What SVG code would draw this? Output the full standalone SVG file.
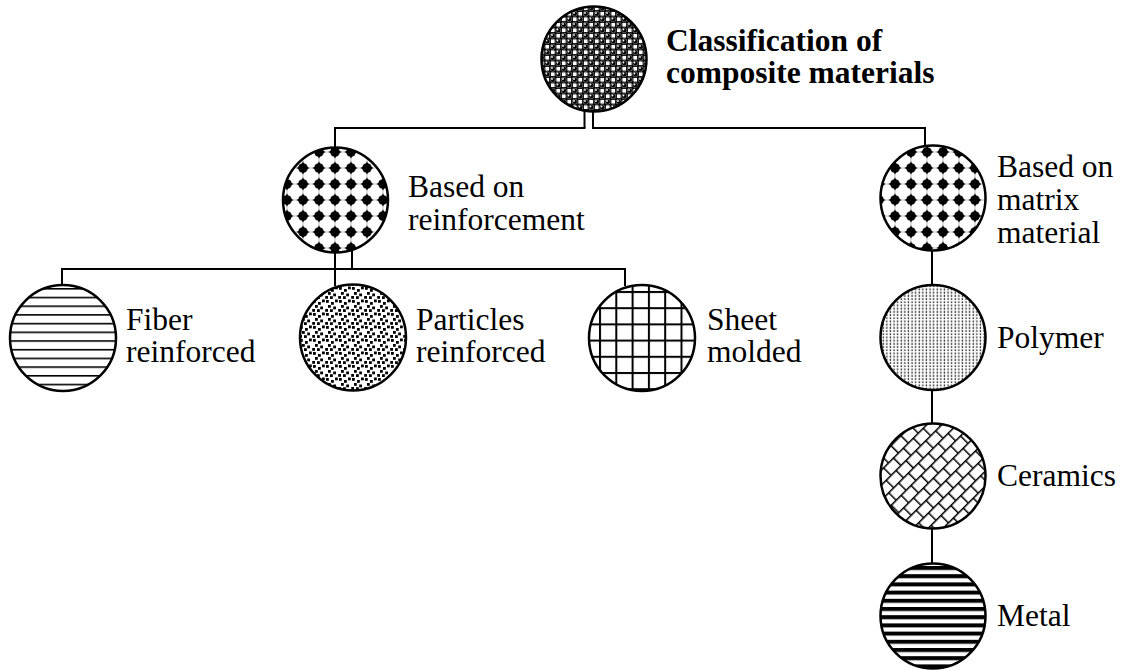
<svg xmlns="http://www.w3.org/2000/svg" width="1125" height="670" viewBox="0 0 1125 670">
<style>
.node{stroke:#000;stroke-width:2.5}
.conn line{stroke:#000;stroke-width:2}
text{fill:#000}
</style>
<defs>
<pattern id="balls" width="11" height="11" patternUnits="userSpaceOnUse" x="0" y="0">
<rect width="11" height="11" fill="#000"/>
<rect x="6.4" y="0.9" width="3.7" height="3.7" fill="#fff"/>
<rect x="0.9" y="6.4" width="3.7" height="3.7" fill="#fff"/>
<circle cx="2.75" cy="2.75" r="2.6" fill="#000" stroke="#bbb" stroke-width="0.5"/>
<circle cx="8.25" cy="8.25" r="2.6" fill="#000" stroke="#bbb" stroke-width="0.5"/>
<circle cx="2" cy="2" r="0.9" fill="#fff"/>
<circle cx="7.5" cy="7.5" r="0.9" fill="#fff"/>
</pattern>
<pattern id="stars" width="16" height="16" patternUnits="userSpaceOnUse" x="327" y="0">
<rect width="16" height="16" fill="#fff"/>
<line x1="0" y1="8" x2="16" y2="8" stroke="#999" stroke-width="0.6" stroke-dasharray="1.5 1.5"/>
<line x1="8" y1="0" x2="8" y2="16" stroke="#999" stroke-width="0.6" stroke-dasharray="1.5 1.5"/>
<polygon points="8,1 10,6 15,8 10,10 8,15 6,10 1,8 6,6" fill="#000"/>
<circle cx="8" cy="8" r="4.8" fill="#000"/>
</pattern>
<pattern id="fiber" width="20" height="8.7" patternUnits="userSpaceOnUse" y="288">
<rect width="20" height="8.7" fill="#fff"/>
<rect y="0" width="20" height="1.6" fill="#000"/>
</pattern>
<pattern id="dots" width="13" height="13" patternUnits="userSpaceOnUse">
<rect width="13" height="13" fill="#fff"/>
<g fill="#000">
<rect x="1" y="1" width="2.8" height="2.8"/>
<rect x="6" y="3" width="2.8" height="2.8"/>
<rect x="10" y="0.5" width="2.8" height="2.8"/>
<rect x="3" y="6" width="2.8" height="2.8"/>
<rect x="8.2" y="7.5" width="2.8" height="2.8"/>
<rect x="0.2" y="10" width="2.8" height="2.8"/>
<rect x="5" y="10.2" width="2.8" height="2.8"/>
</g>
</pattern>
<pattern id="grid" width="16.3" height="16.2" patternUnits="userSpaceOnUse" x="599" y="291">
<rect width="16.3" height="16.2" fill="#fff"/>
<rect x="0" y="0" width="2" height="16.2" fill="#000"/>
<rect x="0" y="0" width="16.3" height="2" fill="#000"/>
</pattern>
<pattern id="poly" width="3.6" height="3.2" patternUnits="userSpaceOnUse">
<rect width="3.6" height="3.2" fill="#fff"/>
<rect x="0.6" y="0.4" width="1.3" height="2" fill="#333"/>
</pattern>
<pattern id="brick" width="14" height="21.2" patternUnits="userSpaceOnUse" patternTransform="rotate(-45 933 476)">
<rect width="14" height="21.2" fill="#fff"/>
<rect x="0" y="0" width="14" height="1.5" fill="#000"/>
<rect x="0" y="10.6" width="14" height="1.5" fill="#000"/>
<rect x="0" y="0" width="1.5" height="10.6" fill="#000"/>
<rect x="7" y="10.6" width="1.5" height="10.6" fill="#000"/>
</pattern>
<pattern id="metal" width="20" height="8.2" patternUnits="userSpaceOnUse" y="566">
<rect width="20" height="8.2" fill="#fff"/>
<rect y="0" width="20" height="4" fill="#000"/>
</pattern>
</defs>
<rect width="1125" height="670" fill="#fff"/>
<g id="connectors" class="conn">
<line x1="584.5" y1="110" x2="584.5" y2="128"/>
<line x1="334" y1="128" x2="585.5" y2="128"/>
<line x1="593" y1="110" x2="593" y2="128"/>
<line x1="592" y1="128" x2="926" y2="128"/>
<line x1="335" y1="127" x2="335" y2="148"/>
<line x1="925" y1="127" x2="925" y2="146"/>
<line x1="335" y1="251" x2="335" y2="286"/>
<line x1="352" y1="251" x2="352" y2="269"/>
<line x1="62" y1="269" x2="626" y2="269"/>
<line x1="62" y1="268" x2="62" y2="286"/>
<line x1="625" y1="268" x2="625" y2="286"/>
<line x1="932" y1="249" x2="932" y2="286"/>
<line x1="932" y1="389" x2="932" y2="424"/>
<line x1="932" y1="527" x2="932" y2="564"/>
</g>
<g font-family="'Liberation Serif', 'Times New Roman', 'DejaVu Serif', serif" font-size="31.5">
<g id="root">
<circle class="node" cx="594" cy="59" r="52.5" fill="url(#balls)"/>
<text font-weight="bold" x="666" y="50.5">Classification of</text>
<text font-weight="bold" x="666" y="82.5">composite materials</text>
</g>
<g id="reinforcement">
<circle class="node" cx="335.5" cy="200" r="52.5" fill="url(#stars)"/>
<text x="408" y="197">Based on</text>
<text x="408" y="230">reinforcement</text>
</g>
<g id="matrix">
<circle class="node" cx="933" cy="198" r="52.5" fill="url(#stars)"/>
<text x="997" y="177">Based on</text>
<text x="997" y="210">matrix</text>
<text x="997" y="243">material</text>
</g>
<g id="fiber-node">
<circle class="node" cx="63" cy="338" r="53" fill="url(#fiber)"/>
<text x="126" y="330">Fiber</text>
<text x="126" y="362">reinforced</text>
</g>
<g id="particles">
<circle class="node" cx="353" cy="337.5" r="53" fill="url(#dots)"/>
<text x="416" y="330">Particles</text>
<text x="416" y="362">reinforced</text>
</g>
<g id="sheet">
<circle class="node" cx="642" cy="338" r="53" fill="url(#grid)"/>
<text x="707" y="330">Sheet</text>
<text x="707" y="362">molded</text>
</g>
<g id="polymer">
<circle class="node" cx="933" cy="337.5" r="52.5" fill="url(#poly)"/>
<text x="997" y="348">Polymer</text>
</g>
<g id="ceramics">
<circle class="node" cx="933" cy="476" r="52.5" fill="url(#brick)"/>
<text x="997" y="486">Ceramics</text>
</g>
<g id="metal-node">
<circle class="node" cx="933" cy="616" r="52.5" fill="url(#metal)"/>
<text x="997" y="626">Metal</text>
</g>
</g>
</svg>
